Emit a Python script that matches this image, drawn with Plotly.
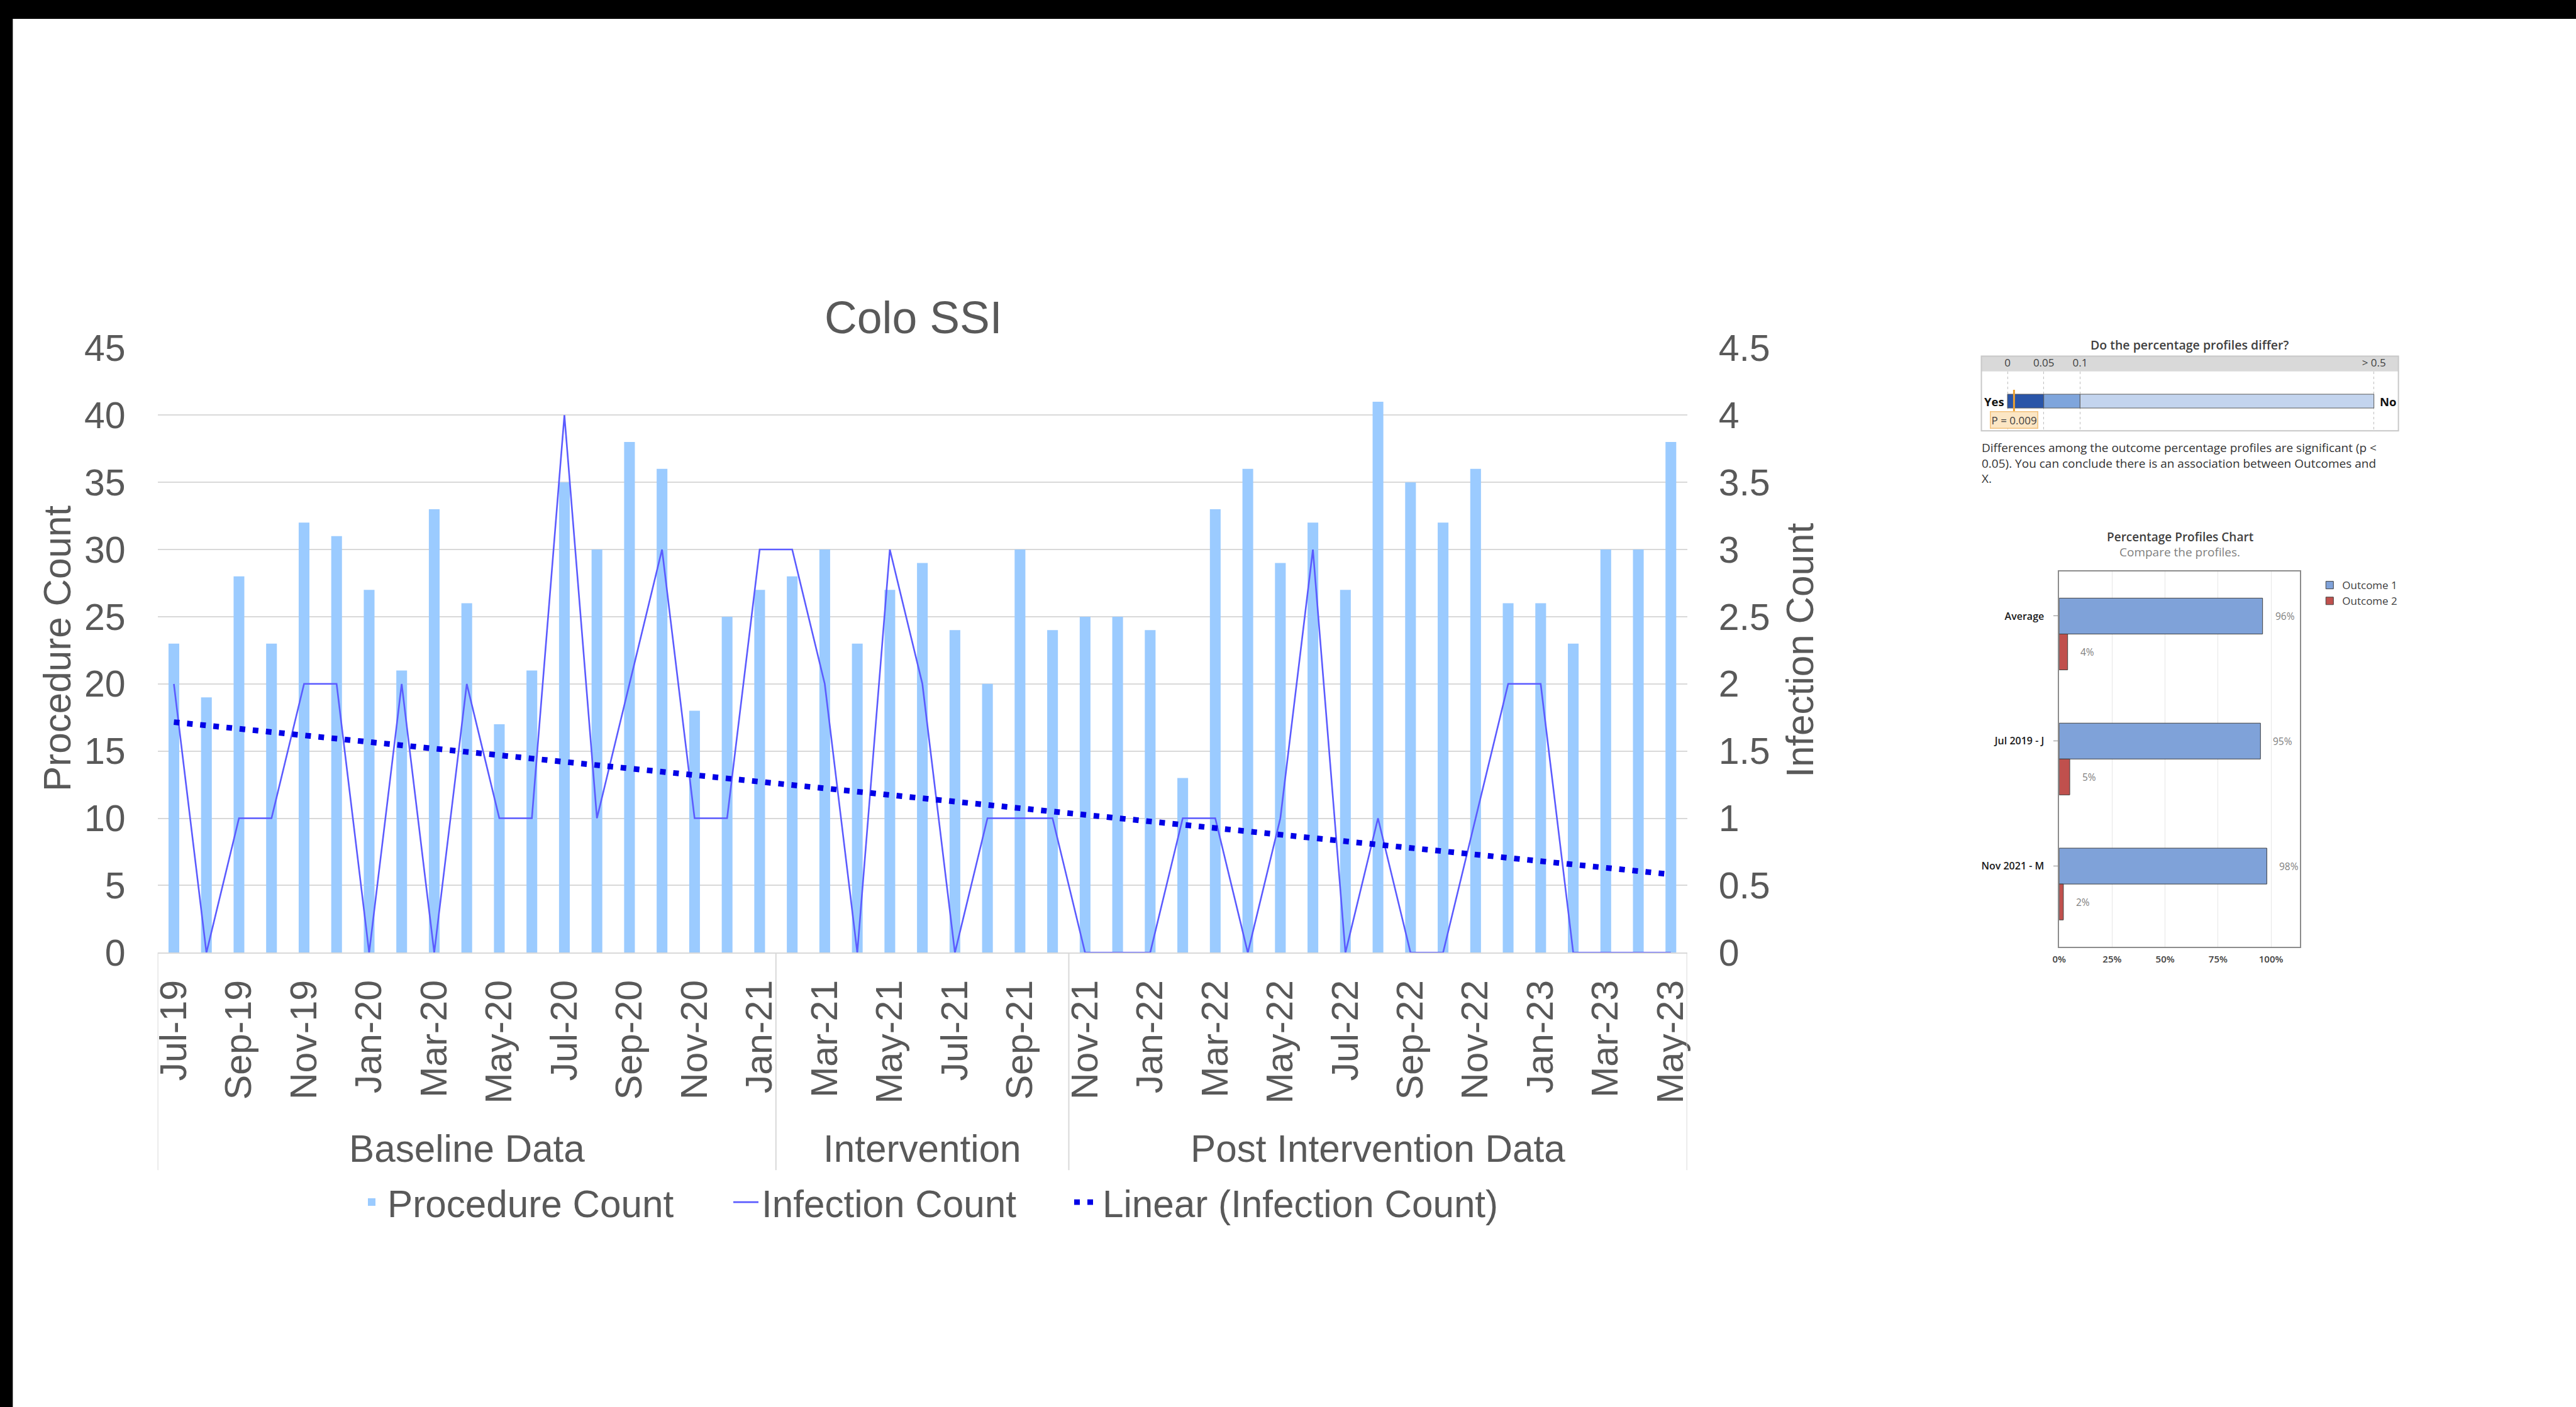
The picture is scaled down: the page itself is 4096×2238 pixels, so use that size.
import numpy as np
import plotly.graph_objects as go

# ---------------- data ----------------
MONTHS = ["Jul-19", "Aug-19", "Sep-19", "Oct-19", "Nov-19", "Dec-19",
          "Jan-20", "Feb-20", "Mar-20", "Apr-20", "May-20", "Jun-20",
          "Jul-20", "Aug-20", "Sep-20", "Oct-20", "Nov-20", "Dec-20",
          "Jan-21", "Feb-21", "Mar-21", "Apr-21", "May-21", "Jun-21",
          "Jul-21", "Aug-21", "Sep-21", "Oct-21", "Nov-21", "Dec-21",
          "Jan-22", "Feb-22", "Mar-22", "Apr-22", "May-22", "Jun-22",
          "Jul-22", "Aug-22", "Sep-22", "Oct-22", "Nov-22", "Dec-22",
          "Jan-23", "Feb-23", "Mar-23", "Apr-23", "May-23"]
PROCEDURE_COUNT = [23, 19, 28, 23, 32, 31, 27, 21, 33, 26, 17, 21, 35, 30, 38, 36, 18, 25, 27,
                   28, 30, 23, 27, 29, 24, 20, 30, 24,
                   25, 25, 24, 13, 33, 36, 29, 32, 27, 41, 35, 32, 36, 26, 26, 23, 30, 30, 38]
INFECTION_COUNT = [2, 0, 1, 1, 2, 2, 0, 2, 0, 2, 1, 1, 4, 1, 2, 3, 1, 1, 3,
                   3, 2, 0, 3, 2, 0, 1, 1, 1,
                   0, 0, 0, 1, 1, 0, 1, 3, 0, 1, 0, 0, 1, 2, 2, 0, 0, 0, 0]
PHASES = ["Baseline Data", "Intervention", "Post Intervention Data"]
PHASE_LENGTHS = [19, 9, 19]
LEFT_TICKS = [0, 5, 10, 15, 20, 25, 30, 35, 40, 45]
RIGHT_TICKS = [0, 0.5, 1, 1.5, 2, 2.5, 3, 3.5, 4, 4.5]

PROFILE_ROWS = ["Average", "Jul 2019 - J", "Nov 2021 - M"]
OUTCOME_1_PCT = [96, 95, 98]
OUTCOME_2_PCT = [4, 5, 2]
PROFILE_TICKS = [0, 25, 50, 75, 100]

P_VALUE = 0.009
P_EDGES = [0, 0.05, 0.1, 0.5]
P_EDGE_LABELS = ["0", "0.05", "0.1", "&gt; 0.5"]
P_EDGE_POS = [0, 1, 2, 10.1]          # Minitab's piecewise display scale

# ---------------- geometry helpers (reference pixels -> output) ----------------
REF_W, REF_H = 5034, 2750
W, H = 4096, 2238
S = W / REF_W


def px(x):
    return x / REF_W


def py(y):
    return 1 - y / REF_H


def fs(v):
    return v * S


def fi(v):
    return int(round(v * S))


FONT = "Liberation Sans, Arial, sans-serif"
MFONT = "Open Sans, Noto Sans, sans-serif"
GREY = "#595959"
GRID = "#D9D9D9"
BAR_BLUE = "#9BCBFF"
LINE_BLUE = "#5B5BFF"
TREND_BLUE = "#0000E6"

n = len(MONTHS)
idx = np.arange(n)
coef = np.polyfit(idx, INFECTION_COUNT, 1)
trend = np.polyval(coef, idx)
edges = np.concatenate([[0], np.cumsum(PHASE_LENGTHS)]) - 0.5
centers = (edges[:-1] + edges[1:]) / 2

fig = go.Figure()

# ---------------- main chart ----------------
fig.add_trace(go.Bar(x=idx, y=PROCEDURE_COUNT, name="Procedure Count", width=0.33,
                     marker=dict(color=BAR_BLUE, line=dict(width=0)),
                     legend="legend", xaxis="x", yaxis="y"))
fig.add_trace(go.Scatter(x=idx, y=INFECTION_COUNT, name="Infection Count", mode="lines",
                         line=dict(color=LINE_BLUE, width=fs(3.2)),
                         legend="legend3", xaxis="x", yaxis="y2"))
fig.add_trace(go.Scatter(x=idx, y=trend, name="Linear (Infection Count)", mode="lines",
                         line=dict(color=TREND_BLUE, width=fs(11), dash="9px,12px"),
                         legend="legend4", xaxis="x", yaxis="y2"))

# ---------------- percentage profiles chart ----------------
prof_idx = np.arange(len(PROFILE_ROWS))
BW = 0.287
fig.add_trace(go.Bar(y=prof_idx, x=OUTCOME_1_PCT, orientation="h", width=BW, offset=-BW / 2,
                     name="Outcome 1", legend="legend2",
                     marker=dict(color="#7FA2D9", line=dict(color="#404040", width=1)),
                     xaxis="x3", yaxis="y3"))
fig.add_trace(go.Bar(y=prof_idx, x=OUTCOME_2_PCT, orientation="h", width=BW, offset=BW / 2,
                     name="Outcome 2", legend="legend2",
                     marker=dict(color="#C0504D", line=dict(color="#404040", width=1)),
                     xaxis="x3", yaxis="y3"))

# ---------------- p-value panel ----------------
p_pos = lambda p: float(np.interp(p, P_EDGES, P_EDGE_POS))
seg_start = P_EDGE_POS[:-1]
seg_width = list(np.diff(P_EDGE_POS))
fig.add_trace(go.Bar(y=[0, 0, 0], x=seg_width, base=seg_start, orientation="h", width=0.233,
                     marker=dict(color=["#2A55A8", "#7FA5DC", "#C3D4EE"],
                                 line=dict(color="#595959", width=1)),
                     showlegend=False, hoverinfo="skip", xaxis="x4", yaxis="y4"))

shapes = [
    dict(type="rect", xref="paper", yref="paper", x0=0, x1=1, y0=py(37), y1=1,
         fillcolor="black", line=dict(width=0), layer="above"),
    dict(type="rect", xref="paper", yref="paper", x0=0, x1=px(25), y0=0, y1=1,
         fillcolor="black", line=dict(width=0), layer="above"),
    dict(type="rect", xref="paper", yref="paper", x0=px(3872), x1=px(4687), y0=py(726), y1=py(696),
         fillcolor="#D9D9D9", line=dict(width=0), layer="below"),
    dict(type="rect", xref="paper", yref="paper", x0=px(3872), x1=px(4687), y0=py(842), y1=py(696),
         fillcolor="rgba(0,0,0,0)", line=dict(color="#C8C8C8", width=2)),
    dict(type="line", xref="x4", yref="y4", x0=p_pos(P_VALUE), x1=p_pos(P_VALUE), y0=-0.21, y1=0.19,
         line=dict(color="#EDA233", width=3)),
]
for e in edges:
    shapes.append(dict(type="line", xref="x", yref="paper", x0=e, x1=e, y0=py(2287), y1=py(1862),
                       line=dict(color=GRID, width=fs(2.5))))


def note(text, x, y, size, color, family=FONT, xanchor="center", yanchor="middle", **kw):
    return dict(text=text, x=x, y=y, xref=kw.pop("xref", "paper"), yref=kw.pop("yref", "paper"),
                xanchor=xanchor, yanchor=yanchor, showarrow=False,
                font=dict(family=family, size=size, color=color, **kw.pop("fontkw", {})), **kw)


annotations = [
    note("Colo SSI", px(1785), py(620), fs(88), GREY),
    note("Procedure Count", px(112), py(1268), fs(74), GREY, textangle=-90),
    note("Infection Count", px(3518), py(1271), fs(74), GREY, textangle=-90),
]
for c, name in zip(centers, PHASES):
    annotations.append(note(name, c, py(2245), fs(74), GREY, xref="x"))

# inset texts
annotations += [
    note("Do the percentage profiles differ?", px(4279), py(674), 19.5, "#404040", MFONT,
         fontkw=dict(weight=600)),
    note("Yes", 0, 0, 18.5, "#111111", MFONT, xanchor="right", xref="x4", yref="y4", xshift=-3,
         fontkw=dict(weight=700)),
    note("No", P_EDGE_POS[-1], 0, 18.5, "#111111", MFONT, xanchor="left", xref="x4", yref="y4", xshift=7,
         fontkw=dict(weight=700)),
    note("P = %.3f" % P_VALUE, p_pos(P_VALUE), -0.32, 17, "#404040", MFONT, xref="x4", yref="y4",
         bgcolor="#FCE6C4", bordercolor="#F3C27C", borderwidth=1.5, borderpad=1),
    note("Differences among the outcome percentage profiles are significant (p &lt;<br>"
         "0.05). You can conclude there is an association between Outcomes and<br>X.",
         px(3870), py(857), 19, "#333333", MFONT, xanchor="left", yanchor="top", align="left"),
    note("Percentage Profiles Chart", px(4260), py(1049), 19, "#404040", MFONT, fontkw=dict(weight=600)),
    note("Compare the profiles.", px(4260), py(1079), 19, "#7F7F7F", MFONT),
]
for i, (a, b) in enumerate(zip(OUTCOME_1_PCT, OUTCOME_2_PCT)):
    annotations.append(note("%d%%" % a, a, i, 15.5, "#7F7F7F", MFONT, xanchor="left",
                            xref="x3", yref="y3", xshift=fs(22)))
    annotations.append(note("%d%%" % b, b, i + BW, 15.5, "#7F7F7F", MFONT, xanchor="left",
                            xref="x3", yref="y3", xshift=fs(22)))


def main_legend(x_out):
    return dict(orientation="h", x=x_out / W, xanchor="left", y=py(2350), yanchor="middle",
                font=dict(family=FONT, size=fs(74), color=GREY), bgcolor="rgba(0,0,0,0)",
                itemwidth=40)


fig.update_layout(
    width=W, height=H, margin=dict(l=0, r=0, t=0, b=0, pad=0), autosize=False,
    paper_bgcolor="white", plot_bgcolor="white",
    barmode="overlay", showlegend=True,
    font=dict(family=FONT, color=GREY),
    xaxis=dict(domain=[px(308), px(3297)], range=[-0.5, n - 0.5], anchor="y",
               tickmode="array", tickvals=idx[::2], ticktext=MONTHS[::2], tickangle=-90,
               tickfont=dict(family=FONT, size=fs(72.5), color=GREY),
               ticks="", ticklabelstandoff=18, automargin=False,
               showline=True, linecolor=GRID, linewidth=fs(2.5), showgrid=False, zeroline=False),
    yaxis=dict(domain=[py(1862), py(680)], range=[0, 45], anchor="x",
               tickmode="array", tickvals=LEFT_TICKS,
               tickfont=dict(family=FONT, size=fs(72.5), color=GREY),
               ticks="", ticklabelstandoff=fi(62), automargin=False,
               showgrid=True, gridcolor=GRID, gridwidth=fs(2.5), zeroline=False, showline=False),
    yaxis2=dict(overlaying="y", side="right", range=[0, 4.5], anchor="x",
                tickmode="array", tickvals=RIGHT_TICKS,
                tickfont=dict(family=FONT, size=fs(72.5), color=GREY),
                ticks="", ticklabelstandoff=fi(60), automargin=False,
                showgrid=False, zeroline=False, showline=False),
    xaxis3=dict(domain=[px(4024), px(4494)], range=[0, 113.5], anchor="y3",
                tickmode="array", tickvals=PROFILE_TICKS, ticktext=["%d%%" % t for t in PROFILE_TICKS],
                tickfont=dict(family=MFONT, size=15, color="#404040", weight=600),
                ticks="", ticklabelstandoff=6, automargin=False,
                showgrid=True, gridcolor="#E6E6E6", gridwidth=1, zeroline=False,
                showline=True, mirror=True, linecolor="#8C8C8C", linewidth=1.5),
    yaxis3=dict(domain=[py(1850), py(1117)], range=[len(PROFILE_ROWS) - 0.5 + BW / 2, -0.5 + BW / 2],
                anchor="x3", tickmode="array", tickvals=prof_idx, ticktext=PROFILE_ROWS,
                tickfont=dict(family=MFONT, size=16, color="#1A1A1A", weight=600),
                ticks="outside", ticklen=7, tickcolor="#8C8C8C", ticklabelstandoff=12, automargin=False,
                showgrid=False, zeroline=False,
                showline=True, mirror=True, linecolor="#8C8C8C", linewidth=1.5),
    xaxis4=dict(domain=[px(3872), px(4687)], range=[(3872 - 3923) / 70.9, (4687 - 3923) / 70.9],
                anchor="y4", side="top", tickmode="array", tickvals=P_EDGE_POS, ticktext=P_EDGE_LABELS,
                tickfont=dict(family=MFONT, size=17, color="#404040"), ticks="", ticklabelstandoff=3,
                showgrid=True, gridcolor="#BFBFBF", gridwidth=1, griddash="4px,4px", automargin=False,
                zeroline=False, showline=False),
    yaxis4=dict(domain=[py(842), py(726)], range=[-0.5, 0.5], anchor="x4", visible=False),
    legend=main_legend(566),
    legend3=main_legend(1161),
    legend4=main_legend(1703),
    legend2=dict(orientation="v", x=px(4528), xanchor="left", y=py(1122), yanchor="top",
                 font=dict(family=MFONT, size=17, color="#404040"), bgcolor="rgba(0,0,0,0)",
                 tracegroupgap=0, itemwidth=30),
    shapes=shapes, annotations=annotations,
)

fig.write_html("out.html", post_script="document.body.style.margin='0px';document.body.style.overflow='hidden';")
